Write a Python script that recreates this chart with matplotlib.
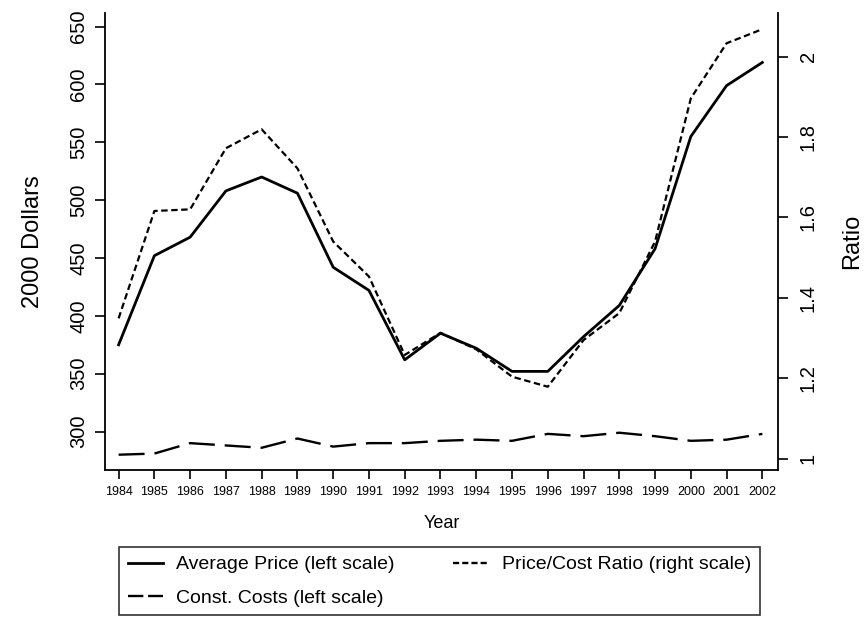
import matplotlib.pyplot as plt
from matplotlib.lines import Line2D

plt.rcParams['font.family'] = ['Liberation Sans', 'DejaVu Sans']

years = list(range(1984, 2003))
avg_price = [375, 452, 468, 508, 520, 506, 442, 422, 362, 385, 372, 352, 352,
             382, 409, 458, 555, 599, 619]
const_costs = [280, 281, 290, 288, 286, 294, 287, 290, 290, 292, 293, 292, 298,
               296, 299, 296, 292, 293, 298]
price_cost_ratio = [1.349, 1.616, 1.620, 1.772, 1.819, 1.722, 1.540, 1.453, 1.258,
                    1.313, 1.272, 1.204, 1.179, 1.295, 1.362, 1.540, 1.896, 2.033,
                    2.068]

left_ticks = [300, 350, 400, 450, 500, 550, 600, 650]
right_ticks = [1, 1.2, 1.4, 1.6, 1.8, 2]
right_labels = ['1', '1.2', '1.4', '1.6', '1.8', '2']
legend_labels = ['Average Price (left scale)', 'Const. Costs (left scale)',
                 'Price/Cost Ratio (right scale)']

fig = plt.figure(figsize=(8.68, 6.22), dpi=100)
ax = fig.add_axes([0.121, 0.2444, 0.775, 0.7352])
ax2 = ax.twinx()

ax.plot(years, avg_price, color='black', lw=2)
ax.plot(years, const_costs, color='black', lw=1.7, linestyle=(0, (11, 4.2)))
ax2.plot(years, price_cost_ratio, color='black', lw=1.6, linestyle=(0, (2.9, 1.6)))

ax.set_xlim(1983.62, 2002.43)
ax.set_ylim(266.8, 662)
ax2.set_ylim(0.972, 2.109)

ax.set_xticks(years)
ax.set_xticklabels([str(y) for y in years], fontsize=9)
ax.set_yticks(left_ticks)
ax.set_yticklabels([str(v) for v in left_ticks], rotation=90, va='center', fontsize=14.5)
ax2.set_yticks(right_ticks)
ax2.set_yticklabels(right_labels, rotation=90, va='center', fontsize=14.5)

for a in (ax, ax2):
    a.spines['top'].set_visible(False)
    for s in a.spines.values():
        s.set_linewidth(1.3)
ax.spines['right'].set_visible(False)
ax2.spines['left'].set_visible(False)
ax2.spines['bottom'].set_visible(False)
ax.tick_params(axis='x', length=6.5, width=1.2, pad=5)
ax.tick_params(axis='y', length=7, width=1.2, pad=5)
ax2.tick_params(axis='y', length=7, width=1.2, pad=8)

ax.set_xlabel('Year', fontsize=13, labelpad=12)
ax.set_ylabel('2000 Dollars', fontsize=17, labelpad=18)
ax2.set_ylabel('Ratio', fontsize=17, labelpad=17)

# legend keys drawn shorter, as in the original
handles = [Line2D([], [], color='black', lw=2),
           Line2D([], [], color='black', lw=1.7, linestyle=(0, (6.5, 2))),
           Line2D([], [], color='black', lw=1.7, linestyle=(0, (2.6, 1.3)))]
leg = fig.legend(handles, legend_labels,
                 ncol=2, loc='upper left', bbox_to_anchor=(119 / 868, 1 - 547 / 622),
                 borderaxespad=0, fontsize=14, frameon=True, fancybox=False,
                 edgecolor='black', handlelength=1.8, handletextpad=0.7,
                 columnspacing=3.0, labelspacing=0.8, borderpad=0.45)
leg.get_frame().set_linewidth(1.2)

fig.savefig('out.png', dpi=100)
